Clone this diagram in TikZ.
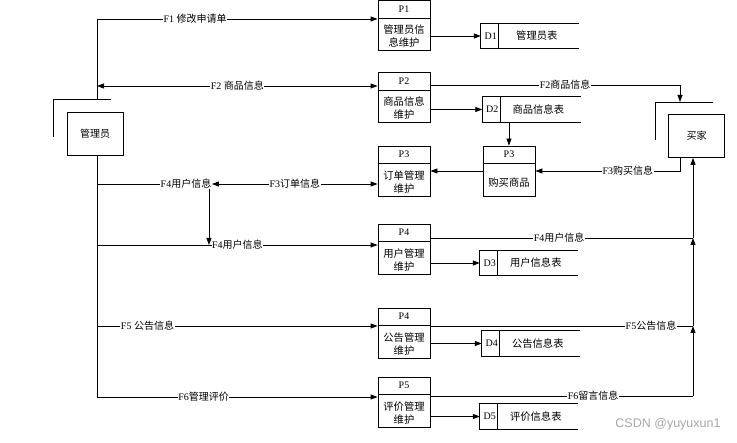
\documentclass[tikz,border=0pt]{standalone}
\usepackage{fontspec}
\setmainfont{Liberation Serif}
\newfontfamily\cjk{Noto Sans CJK SC}
\newfontfamily\wmfont{Liberation Sans}
\usepackage{tikz}
\usetikzlibrary{arrows.meta}

\begin{document}
\begin{tikzpicture}[x=1pt,y=-1pt,
  every node/.style={font=\fontsize{10}{12}\selectfont,inner sep=1pt},
  line/.style={line width=0.8pt},
  arr/.style={line,-{Triangle[length=7pt,width=5pt]}},
  dbl/.style={line,{Triangle[length=7pt,width=5pt]}-{Triangle[length=7pt,width=5pt]}},
  proc/.style={draw,line width=0.8pt,minimum width=52pt,minimum height=50pt,inner sep=0pt},
  store/.style={minimum width=98pt,minimum height=25pt,inner sep=0pt},
  ext/.style={draw,line width=0.8pt,minimum width=56pt,minimum height=43pt,font=\cjk\fontsize{10}{12}\selectfont},
  lbl/.style={fill=white,inner sep=0.5pt}
]
  \useasboundingbox (0,0) rectangle (737,443);

  % external entities
  \node[ext] (mgr) at (95,133.5) {管理员};
  \draw[line] (53,137) -- (53,99) -- (111,99);
  \node[ext] (buyer) at (696.5,136) {买家};
  \draw[line] (655,140) -- (655,102) -- (713,102);

  % processes
  \foreach \n/\x/\y/\id/\a/\b in {admin/404/25.5/P1/管理员信/息维护, goods/404/97.5/P2/商品信息/维护,
      order/404/171/P3/订单管理/维护, user/404/249/P4/用户管理/维护,
      notice/404/333/P4/公告管理/维护, review/404/402/P5/评价管理/维护} {
    \node[proc] (\n) at (\x,\y) {};
    \draw[line] ([yshift=-18pt]\n.north west) -- ([yshift=-18pt]\n.north east);
    \node (\n-id) at ([yshift=-9pt]\n.north) {\id};
    \node[align=center,font=\cjk\fontsize{10.3}{13}\selectfont] (\n-txt) at ([yshift=-36pt]\n.north) {\a\\\b};
  }
  \node[proc] (buy) at (509,171) {};
  \draw[line] ([yshift=-18pt]buy.north west) -- ([yshift=-18pt]buy.north east);
  \node (buy-id) at ([yshift=-9pt]buy.north) {P3};
  \node[font=\cjk\fontsize{10.3}{12}\selectfont] (buy-txt) at ([yshift=-37pt]buy.north) {购买商品};

  % data stores
  \foreach \n/\x/\y/\id/\t in {d1/530/36/D1/管理员表, d2/531.5/109.5/D2/商品信息表, d3/529/263/D3/用户信息表,
      d4/531/343.5/D4/公告信息表, d5/529/416.5/D5/评价信息表} {
    \node[store] (\n) at (\x,\y) {};
    \draw[line] (\n.north east) -- (\n.north west) -- (\n.south west) -- (\n.south east);
    \draw[line] ([xshift=18pt]\n.north west) -- ([xshift=18pt]\n.south west);
    \node (\n-id) at ([xshift=10pt]\n.west) {\id};
    \node[font=\cjk\fontsize{10.3}{12}\selectfont] (\n-txt) at ([xshift=56pt]\n.west) {\t};
  }

  \coordinate (tr1) at (97,19);
  \coordinate (tr2) at (97,86);
  \coordinate (tr3) at (97,184);
  \coordinate (tr4) at (97,245);
  \coordinate (tr5) at (97,326);
  \coordinate (tr6) at (97,397);
  \coordinate (bk) at (680,102);
  \coordinate (mg4) at (693,238);
  \coordinate (mg5) at (693,326);
  \coordinate (mg6) at (693,396);

  % trunk of the administrator
  \draw[line] (tr1) -- (97,99);
  \draw[line] (mgr.south -| tr1) -- (tr6);
  \draw[arr] (tr1) -- (tr1 -| admin.west) node[lbl,pos=0.35] (f1) {F1 {\cjk 修改申请单}};
  \draw[dbl] (tr2) -- (tr2 -| goods.west) node[lbl,pos=0.5] (f2a) {F2 {\cjk 商品信息}};
  \node[lbl] (f4a) at (186,184) {F4{\cjk 用户信息}};
  \draw[line] (tr3) -- (f4a);
  \draw[dbl] (f4a.east) -- (f4a.east -| order.west) node[lbl,midway] (f3a) {F3{\cjk 订单信息}};
  \draw[arr] ([xshift=-3pt]f4a.south east) -- ([xshift=-3pt]f4a.east |- tr4);
  \draw[arr] (tr4) -- (tr4 -| user.west) node[lbl,pos=0.5] (f4b) {F4{\cjk 用户信息}};
  \draw[arr] (tr5) -- (tr5 -| notice.west) node[lbl,pos=0.18] (f5a) {F5 {\cjk 公告信息}};
  \draw[arr] (tr6) -- (tr6 -| review.west) node[lbl,pos=0.38] (f6a) {F6{\cjk 管理评价}};

  % buyer side
  \draw[arr] ([yshift=12.5pt]goods.east) -| (bk) node[lbl,pos=0.27] (f2b) {F2{\cjk 商品信息}};
  \draw[arr] ([xshift=-16.5pt]buyer.south) |- (buy.east) node[lbl,pos=0.68] (f3b) {F3{\cjk 购买信息}};
  \draw[arr] (d2.south -| buy.north) -- (buy.north);
  \draw[arr] (buy.west) -- (order.east);
  \draw[line] ([yshift=11pt]user.east) -- (mg4) node[lbl,pos=0.49] (f4c) {F4{\cjk 用户信息}};
  \draw[line] ([yshift=7pt]notice.east) -- (mg5) node[lbl,pos=0.84] (f5b) {F5{\cjk 公告信息}};
  \draw[line] ([yshift=6pt]review.east) -- (mg6) node[lbl,pos=0.62] (f6b) {F6{\cjk 留言信息}};
  \draw[arr] (mg6) -- (mg5);
  \draw[arr] (mg5) -- (mg4);
  \draw[arr] (mg4) -- (mg4 |- buyer.south);

  % into the stores
  \draw[arr] (admin.east |- d1) -- (d1.west);
  \draw[arr] (goods.east |- d2) -- (d2.west);
  \draw[arr] (user.east |- d3) -- (d3.west);
  \draw[arr] (notice.east |- d4) -- (d4.west);
  \draw[arr] (review.east |- d5) -- (d5.west);

  \node[font=\wmfont\fontsize{12.5}{14}\selectfont,text=black!35] (wm) at (668,424) {CSDN @yuyuxun1};
\end{tikzpicture}
\end{document}
